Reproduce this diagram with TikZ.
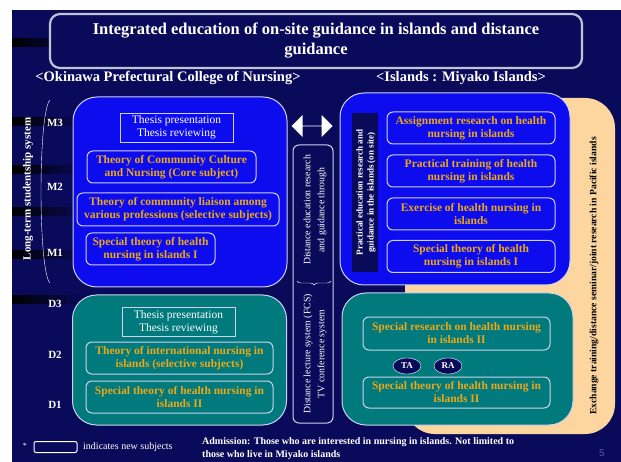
\documentclass[tikz,border=0pt]{standalone}
\usepackage{fontspec}
\setmainfont{Liberation Serif}
\setsansfont{Liberation Sans}
\usepackage{xcolor}
\usepackage{tikz}
\usetikzlibrary{positioning,shapes.arrows,shapes.geometric,decorations.pathreplacing}
\definecolor{SlideNavy}{RGB}{10,10,90}
\definecolor{BoxBlue}{RGB}{12,12,238}
\definecolor{BoxTeal}{RGB}{0,122,124}
\definecolor{SubjOrange}{RGB}{236,168,24}
\definecolor{Peach}{RGB}{252,214,158}
\definecolor{EdgeGray}{RGB}{205,210,235}
\tikzset{
    panel/.style={rounded corners=24pt, draw=EdgeGray, line width=1pt},
    subject/.style={rounded corners=6pt, draw=EdgeGray, line width=1pt, text=SubjOrange,
        align=center, inner sep=0pt, font=\bfseries\fontsize{11.5}{13}\selectfont},
    thesis/.style={draw=EdgeGray, text=white, align=center, inner sep=0pt,
        minimum width=113, minimum height=29, font=\fontsize{11.5}{13}\selectfont},
    heading/.style={text=white, font=\bfseries\fontsize{14.5}{16}\selectfont}
}

\begin{document}
\begin{tikzpicture}[
                x=1pt, y=-1pt,
                mlabel/.style={text=white, font=\bfseries\fontsize{11}{13}\selectfont},
                midtext/.style={text=white, align=center, font=\fontsize{9.8}{14}\selectfont},
                helper/.style={
                    ellipse,
                    draw=white,
                    fill=SlideNavy,
                    text=white,
                    minimum width=28,
                    minimum height=16,
                    inner sep=0pt,
                    font=\bfseries\fontsize{9}{10}\selectfont
                },
                titlebox/.style={
                    draw=white!75!SlideNavy,
                    line width=2.2pt,
                    rounded corners=10pt,
                    fill=SlideNavy,
                    minimum width=532,
                    minimum height=54,
                    align=center,
                    text=white,
                    font=\bfseries\fontsize{16.5}{20}\selectfont
                }
            ]
                \useasboundingbox (0,0) rectangle (621,462);
                \fill[SlideNavy] (12,10) rectangle (621,462);
                \foreach \y in {43,122,170,212,255,300}
                    \shade[left color=black, right color=SlideNavy] (12,\y-4) rectangle (85,\y+4);

                \node[titlebox] (title) at (316,41) {Integrated education of on-site guidance in islands and distance\\guidance};
                \node[heading] (college) at (168,78) {<Okinawa Prefectural College of Nursing>};
                \node[heading] (islands) at (461,78) {<Islands : Miyako Islands>};

                \draw[white] (50,100) .. controls (38,112) and (38,271) .. (50,283);
                \node[mlabel, rotate=90] (longterm) at (28,189) {Long-term studentship system};
                \node[mlabel] (m3) at (55,123) {M3};
                \node[mlabel] (m2) at (55,187) {M2};
                \node[mlabel] (m1) at (55,253) {M1};
                \node[mlabel] (d3) at (55,304) {D3};
                \node[mlabel] (d2) at (55,355) {D2};
                \node[mlabel] (d1) at (55,405) {D1};

                \node[panel, fill=BoxBlue, minimum width=214, minimum height=190] (master) at (180,192) {};
                \node[thesis] (mthesis) at (176.5,127.5) {Thesis presentation\\Thesis reviewing};
                \node[subject, minimum width=169, minimum height=32] (core) at (171.5,167) {Theory of Community Culture\\and Nursing (Core subject)};
                \node[subject, minimum width=202, minimum height=33] (liaison) at (178,209.5) {Theory of community liaison among\\various professions (selective subjects)};
                \node[subject, minimum width=129, minimum height=32] (mspecial) at (150.5,249) {Special theory of health\\nursing in islands I};

                \node[panel, fill=BoxTeal, minimum width=214, minimum height=130] (doctor) at (179.5,360) {};
                \node[thesis] (dthesis) at (178.5,322) {Thesis presentation\\Thesis reviewing};
                \node[subject, minimum width=187, minimum height=32] (intl) at (179.5,358) {Theory of international nursing in\\islands (selective subjects)};
                \node[subject, minimum width=187, minimum height=32] (dspecial) at (179.5,397) {Special theory of health nursing in\\islands II};

                \node[double arrow, fill=white, minimum width=22, minimum height=41, double arrow head extend=5pt, inner sep=0pt] (link) at (312,126) {};
                \node[draw=EdgeGray, line width=1pt, rounded corners=6pt, minimum width=40, minimum height=278] (remote) at (313,284) {};
                \node[midtext, rotate=90] (remoteup) at (315,210) {Distance education research\\and guidance through};
                \node[midtext, rotate=90] (remotedown) at (315,354) {Distance lecture system (FCS)\\TV conference system};
                \coordinate (braceR) at (331,281);
                \coordinate (braceL) at (297,281);
                \draw[white, decorate, decoration={brace, amplitude=4pt}] (braceR) -- (braceL);

                \node[rounded corners=30pt, fill=Peach, minimum width=210, minimum height=336] (exchange) at (510,266) {};
                \node[rotate=90, font=\bfseries\fontsize{9.6}{11}\selectfont] (exchangetext) at (594,276) {Exchange training/distance seminar/joint research in Pacific islands};

                \node[panel, fill=BoxBlue, minimum width=230, minimum height=192] (field) at (455,189) {};
                \node[fill=SlideNavy, minimum width=26, minimum height=159, inner sep=0pt] (fieldbar) at (365,192.5) {};
                \node[rotate=90, text=white, align=center, font=\bfseries\fontsize{9}{11}\selectfont] (fieldtext) at (366,192.5) {Practical education research and\\guidance in the islands (on site)};
                \node[subject, minimum width=168, minimum height=32] (assign) at (471,128) {Assignment research on health\\nursing in islands};
                \node[subject, minimum width=168, minimum height=32] (practice) at (471,171) {Practical training of health\\nursing in islands};
                \node[subject, minimum width=168, minimum height=32] (exercise) at (471,214) {Exercise of health nursing in\\islands};
                \node[subject, minimum width=168, minimum height=32] (fspecial) at (471,256.5) {Special theory of health\\nursing in islands I};

                \node[panel, fill=BoxTeal, minimum width=231, minimum height=132] (fieldteal) at (457.5,359) {};
                \node[subject, minimum width=187, minimum height=33] (research) at (456.5,333.5) {Special research on health nursing\\in islands II};
                \node[helper] (ta) at (407,366) {TA};
                \node[helper] (ra) at (448,366) {RA};
                \node[subject, minimum width=187, minimum height=31] (fspecialii) at (456.5,392.5) {Special theory of health nursing in\\islands II};

                \node[text=white, font=\fontsize{8}{9}\selectfont] (star) at (25,446) {*};
                \node[draw=white, line width=1pt, rounded corners=2pt, minimum width=43, minimum height=11, inner sep=0pt] (legendbox) at (55.5,447) {};
                \node[anchor=west, text=white, inner sep=0pt, font=\fontsize{10}{12}\selectfont] (legendtext) at (83,447) {indicates new subjects};
                \node[anchor=west, text=white, align=left, inner sep=0pt, font=\bfseries\fontsize{10}{13}\selectfont] (admission) at (202,448.5) {Admission: Those who are interested in nursing in islands. Not limited to\\those who live in Miyako islands};
                \node[text=blue!30!gray, font=\sffamily\fontsize{10}{12}\selectfont] (page) at (602,453) {5};
            \end{tikzpicture}
\end{document}
